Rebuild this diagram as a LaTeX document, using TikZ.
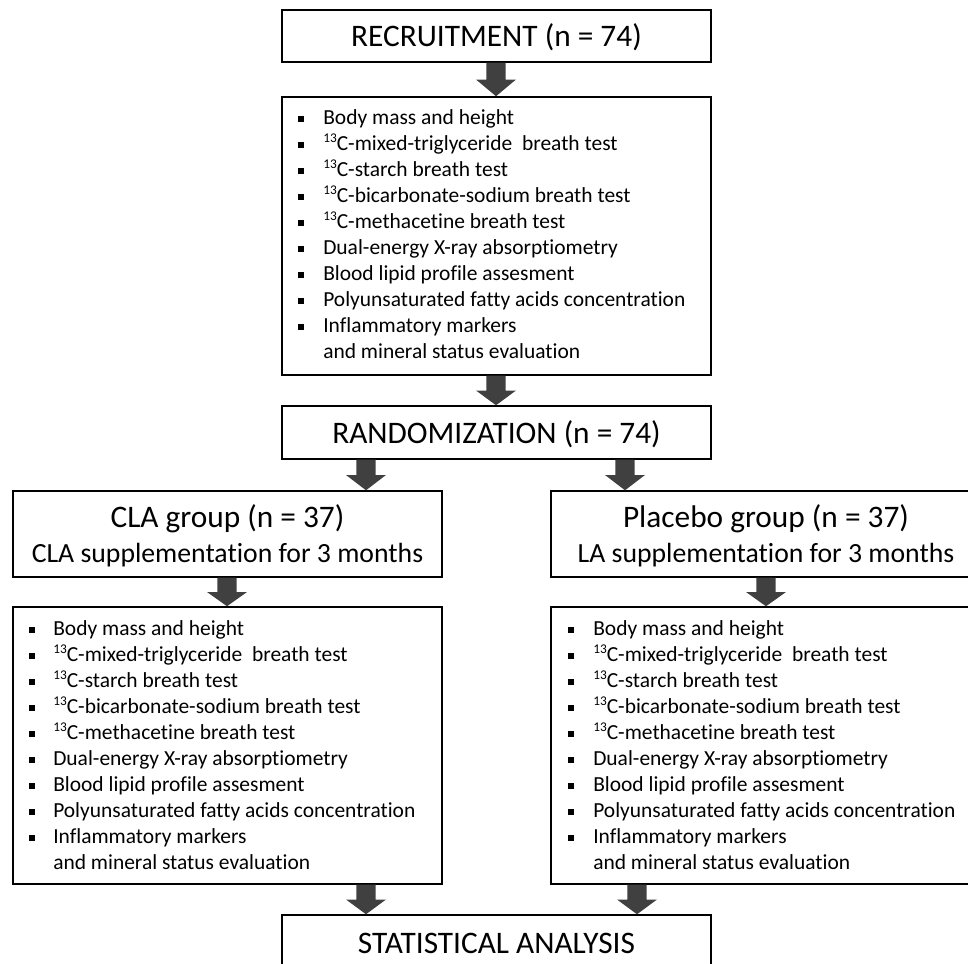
\documentclass[tikz,border=0pt]{standalone}
\usepackage{fontspec}
\setmainfont[Ligatures={NoCommon}]{Carlito}
\usetikzlibrary{calc,fit}
\definecolor{arrowc}{HTML}{404040}
\newcommand\iso{\raisebox{0.36em}{\fontsize{10}{10}\selectfont 13}}
\tikzset{
  box/.style={draw=black, line width=1.1pt, fill=white, inner sep=0pt},
  titletxt/.style={font=\fontsize{23.5}{27}\selectfont, anchor=base, inner sep=0pt},
  subtxt/.style={font=\fontsize{20.8}{24}\selectfont, anchor=base, inner sep=0pt},
  itemtxt/.style={font=\fontsize{16.1}{18}\selectfont, anchor=base west, inner sep=0pt},
  blk/.style={fill=arrowc, to path={let \p1=(\tikztostart), \p2=(\tikztotarget), \n1={0.5*(\y1-\y2)} in
     (\x1-7.2pt,\y1) -- (\x1+7.2pt,\y1) -- (\x1+7.2pt,\y2+\n1) -- (\x1+15pt,\y2+\n1) -- (\x1,\y2)
     -- (\x1-15pt,\y2+\n1) -- (\x1-7.2pt,\y2+\n1) -- cycle}},
}
\newcommand\itemsat[4]{%
  \foreach \itm [count=\i from 0] in {Body mass and height,
      \iso C-mixed-triglyceride~ breath test,
      \iso C-starch breath test,
      \iso C-bicarbonate-sodium breath test,
      \iso C-methacetine breath test,
      Dual-energy X-ray absorptiometry,
      Blood lipid profile assesment,
      Polyunsaturated fatty acids concentration,
      Inflammatory markers,
      and mineral status evaluation}{
    \node[itemtxt] (#1\i) at (#3,#4+\i*26.1) {\itm};
  }
  \foreach \i in {0,...,8} \fill (#2,#4+\i*26.1-2.5) rectangle (#2+6,#4+\i*26.1-8.5);
}
\begin{document}
\begin{tikzpicture}[x=0.75pt,y=-0.75pt]
\useasboundingbox (0,0) rectangle (968,964);
\clip (0,0) rectangle (968,964);

\node[box, fit={(282,10) (711,62)}] (rec) {};
\node[titletxt] (rect) at (496.5,46) {RECRUITMENT (n = 74)};
\node[box, fit={(282,97) (711,375)}] (meas) {};
\itemsat{m}{298}{323}{124}
\node[box, fit={(282,406) (711,459)}] (rand) {};
\node[titletxt] (randt) at (496.5,443) {RANDOMIZATION (n = 74)};

\node[box, fit={(13,491) (442,577)}] (cla) {};
\node[titletxt] (clat) at (227.5,527) {CLA group (n = 37)};
\node[subtxt] (clas) at (227.5,562) {CLA supplementation for 3 months};
\node[box, fit={(551,491) (981,577)}] (pla) {};
\node[titletxt] (plat) at (766,527) {Placebo group (n = 37)};
\node[subtxt] (plas) at (766,562) {LA supplementation for 3 months};

\node[box, fit={(13,607) (442,884)}] (cl) {};
\itemsat{l}{29}{53}{635}
\node[box, fit={(551,607) (981,884)}] (pl) {};
\itemsat{r}{568}{593}{635}

\node[box, fit={(282,915) (711,990)}] (stat) {};
\node[titletxt] (statt) at (496.5,953) {STATISTICAL ANALYSIS};

\path[blk] (rec.south -| 496,0) to (meas.north -| 496,0);
\path[blk] (meas.south -| 496,0) to (rand.north -| 496,0);
\path[blk] (rand.south -| 366,0) to (cla.north -| 366,0);
\path[blk] (rand.south -| 625,0) to (pla.north -| 625,0);
\path[blk] (cla.south -| 227,0) to (cl.north -| 227,0);
\path[blk] (pla.south -| 766,0) to (pl.north -| 766,0);
\path[blk] (cl.south -| 366,0) to (stat.north -| 366,0);
\path[blk] (pl.south -| 637,0) to (stat.north -| 637,0);
\end{tikzpicture}
\end{document}
